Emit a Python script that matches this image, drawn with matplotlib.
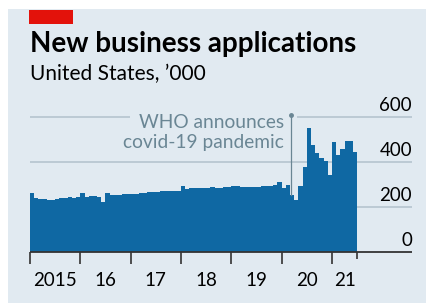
import matplotlib
matplotlib.use("Agg")
import matplotlib.pyplot as plt
import numpy as np
from matplotlib.patches import Rectangle

# ---- data (monthly, '000) ----
start_year = 2015
values = [
    261, 238, 233, 232, 228, 230, 236, 238, 240, 241, 240, 242,   # 2015
    262, 245, 246, 247, 244, 223, 262, 252, 252, 254, 255, 256,   # 2016
    258, 258, 260, 262, 264, 266, 266, 268, 268, 270, 270, 272,   # 2017
    290, 280, 282, 282, 284, 282, 285, 286, 284, 285, 286, 288,   # 2018
    292, 290, 288, 287, 286, 286, 288, 290, 291, 292, 295, 312,   # 2019
    284, 298, 253, 231, 290, 378, 550, 475, 440, 417, 402, 342,   # 2020
    488, 430, 458, 495, 495, 446,                                 # 2021
]
year_labels = ["2015", "16", "17", "18", "19", "20", "21"]
y_ticks = [0, 200, 400, 600]
title = "New business applications"
subtitle = "United States, \u2019000"
annotation = "WHO announces\ncovid-19 pandemic"
who_date = 2020 + 70 / 366

W, H = 426, 303
BG = "#e1eaf1"
BAR = "#0f68a3"
GRID = "#b9c7d1"
ANN = "#6a8694"
FONT = "Lato"

fig = plt.figure(figsize=(W / 100, H / 100), dpi=100)
fig.patch.set_facecolor("white")
fig.patches.append(Rectangle((8 / W, 0), 1, 1 - 9 / H, transform=fig.transFigure,
                             facecolor=BG, edgecolor="none", zorder=-10))
fig.patches.append(Rectangle((29 / W, 1 - 24 / H), 44 / W, 14 / H, transform=fig.transFigure,
                             facecolor="#e3120b", edgecolor="none"))

fig.text(30 / W, 1 - 44 / H, title, fontsize=20, fontweight="bold", family=FONT,
         va="center", ha="left", color="black")
fig.text(30 / W, 1 - 74 / H, subtitle, fontsize=15, family=FONT,
         va="center", ha="left", color="black")

px_per_year = 50.33
x_left_px, x_right_px = 30, 412
y_top_px, y_zero_px = 117, 251.5
ppu = (y_zero_px - y_top_px) / 600
ax = fig.add_axes([x_left_px / W, 1 - y_zero_px / H,
                   (x_right_px - x_left_px) / W, (y_zero_px - y_top_px) / H])
ax.set_facecolor("none")
ax.set_xlim(start_year, start_year + (x_right_px - x_left_px) / px_per_year)
ax.set_ylim(0, 600)
for s in ax.spines.values():
    s.set_visible(False)
ax.set_xticks([])
ax.set_yticks([])

n = len(values)
edges = start_year + np.arange(n + 1) / 12
end_x = edges[-1]
x0, x1 = ax.get_xlim()

# gridlines
for v in y_ticks[1:-1]:
    ax.hlines(v, x0, x1, color=GRID, lw=1.3, zorder=0)
# top gridline interrupted by annotation
ax.hlines(600, x0, start_year + 100 / px_per_year, color=GRID, lw=1.3, zorder=0, clip_on=False)
ax.hlines(600, who_date + 6 / px_per_year, x1, color=GRID, lw=1.3, zorder=0, clip_on=False)

ax.stairs(values, edges, fill=True, color=BAR, lw=0, zorder=2)

# zero line
ax.hlines(0, x0, x1, color="#333333", lw=1.3, zorder=3, clip_on=False)

# ticks
tick_pos = list(range(start_year, start_year + len(year_labels)))
for t in tick_pos:
    ax.plot([t, t], [0, -12 / ppu], color="#333333", lw=1.2, clip_on=False, zorder=3,
            solid_capstyle="butt")
ax.plot([end_x, end_x], [0, -7 / ppu], color="#333333", lw=1.2, clip_on=False, zorder=3,
        solid_capstyle="butt")
label_pos = [t + 0.5 for t in tick_pos[:-1]] + [(tick_pos[-1] + end_x) / 2]
for p, lab in zip(label_pos, year_labels):
    ax.text(p, -(281 - y_zero_px) / ppu, lab, ha="center", va="center",
            fontsize=13.5, family=FONT, color="black")
for v in y_ticks:
    ax.text(x1, v + 11 / ppu, str(v), ha="right", va="center", fontsize=13.5,
            family=FONT, color="black", clip_on=False)

# annotation
idx = int((who_date - start_year) * 12)
ax.plot([who_date, who_date], [values[idx], 607], color=ANN, lw=0.9, zorder=4, clip_on=False)
ax.plot([who_date], [607], "o", ms=2.5, color=ANN, zorder=4, clip_on=False)
ax.text(who_date - 7 / px_per_year, 612, annotation, ha="right", va="top",
        fontsize=13.8, family=FONT, color=ANN, linespacing=1.22)

fig.savefig("out.png", dpi=100, facecolor=fig.get_facecolor())
